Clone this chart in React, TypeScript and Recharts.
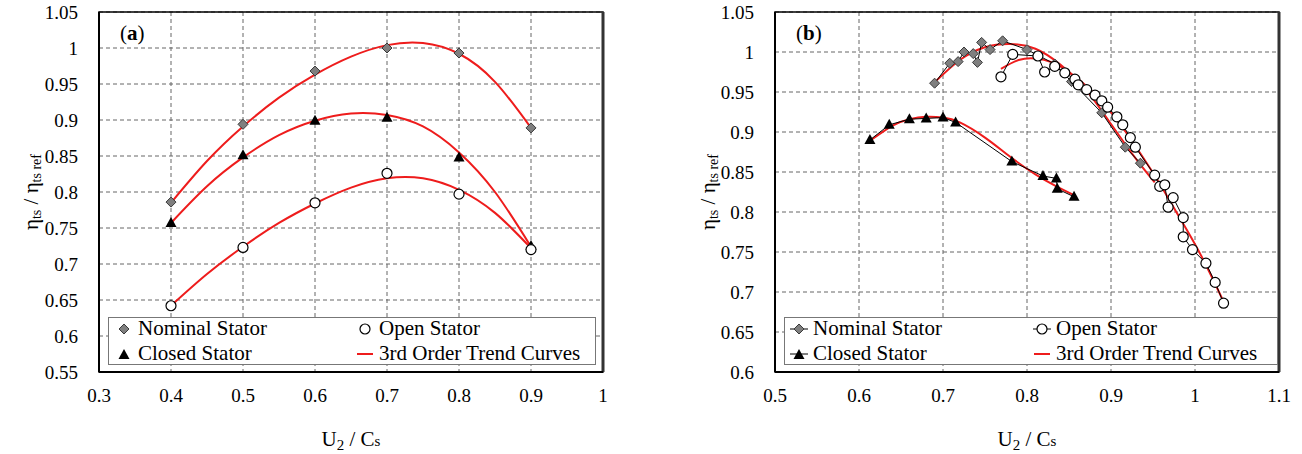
import React from 'react';
import { ComposedChart, Scatter, Line, XAxis, YAxis, CartesianGrid, ReferenceArea, ReferenceLine, Legend } from 'recharts';

const FONT = '"Liberation Serif", "Times New Roman", serif';
const RED = '#ee1c1c';

// (a) measured efficiency ratios at fixed U2/Cs
const ratioA = [0.4, 0.5, 0.6, 0.7, 0.8, 0.9];
const nominalA = [0.786, 0.894, 0.968, 1.0, 0.993, 0.889];
const closedA = [0.757, 0.851, 0.899, 0.903, 0.848, 0.725];
const openA = [0.642, 0.723, 0.785, 0.826, 0.797, 0.72];

// (a) 3rd order trend curves
const trendRatioA = [0.4, 0.45, 0.5, 0.55, 0.6, 0.65, 0.7, 0.75, 0.8, 0.85, 0.9];
const nominalTrendA = [0.785, 0.843, 0.891, 0.931, 0.963, 0.988, 1.004, 1.007, 0.992, 0.953, 0.889];
const closedTrendA = [0.757, 0.808, 0.848, 0.879, 0.899, 0.909, 0.907, 0.891, 0.855, 0.8, 0.724];
const openTrendA = [0.642, 0.686, 0.724, 0.757, 0.784, 0.806, 0.819, 0.819, 0.803, 0.771, 0.722];

// (b) measured points
const nominalRatioB = [0.69, 0.708, 0.718, 0.725, 0.736, 0.741, 0.746, 0.756, 0.771, 0.8, 0.833, 0.853, 0.889, 0.917, 0.935];
const nominalB = [0.961, 0.986, 0.988, 1.0, 0.998, 0.987, 1.012, 1.003, 1.014, 1.003, 0.985, 0.963, 0.924, 0.881, 0.861];
const closedRatioB = [0.613, 0.636, 0.66, 0.68, 0.7, 0.715, 0.782, 0.819, 0.835, 0.836, 0.856];
const closedB = [0.89, 0.909, 0.916, 0.917, 0.918, 0.912, 0.863, 0.845, 0.842, 0.829, 0.819];
const openRatioB = [0.769, 0.783, 0.813, 0.821, 0.833, 0.845, 0.857, 0.861, 0.871, 0.881, 0.889, 0.896, 0.907, 0.914,
  0.923, 0.929, 0.952, 0.958, 0.964, 0.968, 0.974, 0.986, 0.986, 0.997, 1.013, 1.024, 1.034];
const openB = [0.969, 0.997, 0.995, 0.975, 0.982, 0.974, 0.966, 0.959, 0.953, 0.946, 0.939, 0.931, 0.919, 0.909,
  0.893, 0.881, 0.846, 0.832, 0.834, 0.806, 0.818, 0.793, 0.769, 0.753, 0.736, 0.712, 0.686];

// (b) trend curves
const nominalTrendRatioB = [0.69, 0.72, 0.75, 0.78, 0.81, 0.84, 0.87, 0.9, 0.93, 0.952];
const nominalTrendB = [0.962, 0.99, 1.006, 1.01, 1.004, 0.984, 0.953, 0.91, 0.866, 0.837];
const closedTrendRatioB = [0.613, 0.64, 0.66, 0.68, 0.7, 0.72, 0.75, 0.78, 0.81, 0.835, 0.856];
const closedTrendB = [0.889, 0.908, 0.916, 0.919, 0.918, 0.912, 0.893, 0.869, 0.847, 0.832, 0.821];
const openTrendRatioB = [0.769, 0.79, 0.81, 0.83, 0.85, 0.87, 0.89, 0.91, 0.93, 0.95, 0.97, 0.99, 1.01, 1.034];
const openTrendB = [0.979, 0.99, 0.992, 0.987, 0.975, 0.958, 0.937, 0.911, 0.881, 0.849, 0.814, 0.778, 0.74, 0.688];

const ticksXA = [0.3, 0.4, 0.5, 0.6, 0.7, 0.8, 0.9, 1.0];
const ticksYA = [0.55, 0.6, 0.65, 0.7, 0.75, 0.8, 0.85, 0.9, 0.95, 1.0, 1.05];
const ticksXB = [0.5, 0.6, 0.7, 0.8, 0.9, 1.0, 1.1];
const ticksYB = [0.6, 0.65, 0.7, 0.75, 0.8, 0.85, 0.9, 0.95, 1.0, 1.05];

const toPoints = (xs: number[], ys: number[]) => xs.map((x, i) => ({ x, y: ys[i] }));
const fmt = (v: number) => String(Number(v.toFixed(2)));

const Diamond = ({ cx, cy }: any) => (
  <path d={`M${cx},${cy - 5} L${cx + 5},${cy} L${cx},${cy + 5} L${cx - 5},${cy} Z`} fill="#7f7f7f" stroke="#3a3a3a" strokeWidth={1} />
);
const Triangle = ({ cx, cy }: any) => (
  <path d={`M${cx},${cy - 6} L${cx + 5.5},${cy + 4} L${cx - 5.5},${cy + 4} Z`} fill="#000" />
);
const Ring = ({ cx, cy }: any) => <circle cx={cx} cy={cy} r={5} fill="#fff" stroke="#000" strokeWidth={1.2} />;

const Marker = ({ kind, line }: { kind: string; line: boolean }) => (
  <svg width={22} height={14} style={{ position: 'absolute', left: -11, top: -7 }}>
    {line && kind !== 'trend' && <line x1={2} y1={7} x2={20} y2={7} stroke="#000" strokeWidth={1} />}
    {kind === 'nominal' && <Diamond cx={11} cy={7} />}
    {kind === 'closed' && <Triangle cx={11} cy={8} />}
    {kind === 'open' && <Ring cx={11} cy={7} />}
    {kind === 'trend' && <line x1={3} y1={7} x2={19} y2={7} stroke={RED} strokeWidth={2} />}
  </svg>
);

const legendItems = [
  { kind: 'nominal', label: 'Nominal Stator', col: 0, row: 0 },
  { kind: 'open', label: 'Open Stator', col: 1, row: 0 },
  { kind: 'closed', label: 'Closed Stator', col: 0, row: 1 },
  { kind: 'trend', label: '3rd Order Trend Curves', col: 1, row: 1 },
];

const LegendBox = ({ line, colX }: { line: boolean; colX: number[] }) => (
  <div style={{ position: 'relative', width: '100%', height: '100%', boxSizing: 'border-box', border: '1px solid #777', background: '#fff', fontFamily: FONT, fontSize: 21, color: '#000' }}>
    {legendItems.map((it) => (
      <div key={it.label} style={{ position: 'absolute', left: colX[it.col], top: it.row === 0 ? 11 : 36 }}>
        <Marker kind={it.kind} line={line} />
        <span style={{ position: 'absolute', left: 14, top: -13, whiteSpace: 'nowrap', lineHeight: '25px' }}>{it.label}</span>
      </div>
    ))}
  </div>
);

interface PanelProps {
  width: number;
  marginLeft: number;
  marginRight: number;
  xDomain: [number, number];
  yDomain: [number, number];
  xTicks: number[];
  yTicks: number[];
  letter: string;
  nominal: { x: number; y: number }[];
  closed: { x: number; y: number }[];
  open: { x: number; y: number }[];
  trends: { x: number; y: number }[][];
  connect: boolean;
  legendLeft: number;
  legendWidth: number;
  legendCols: number[];
  yLabelX: number;
}

const Panel = (p: PanelProps) => {
  const tick = { fontSize: 19, fill: '#000', fontFamily: FONT };
  const joint = p.connect ? { stroke: '#000', strokeWidth: 1 } : undefined;
  return (
    <ComposedChart width={p.width} height={454} margin={{ top: 12, right: p.marginRight, left: p.marginLeft, bottom: 52 }}>
      <CartesianGrid stroke="#666" strokeDasharray="4 3" />
      <XAxis
        type="number"
        dataKey="x"
        domain={p.xDomain}
        ticks={p.xTicks}
        tickFormatter={fmt}
        tick={tick}
        tickLine={false}
        tickSize={0}
        tickMargin={17}
        height={30}
        axisLine={{ stroke: '#000', strokeWidth: 2 }}
        allowDataOverflow
        label={{
          content: ({ viewBox }: any) => (
            <text x={viewBox.x + viewBox.width / 2} y={viewBox.y + 74} textAnchor="middle" fontFamily={FONT} fontSize={21} fill="#000">
              U<tspan fontSize={15} dy={4}>2</tspan>
              <tspan dy={-4}> / C</tspan>
              <tspan fontSize={15}>s</tspan>
            </text>
          ),
        }}
      />
      <YAxis
        type="number"
        dataKey="y"
        domain={p.yDomain}
        ticks={p.yTicks}
        tickFormatter={fmt}
        tick={tick}
        tickLine={false}
        tickSize={0}
        tickMargin={21}
        width={60}
        axisLine={{ stroke: '#000', strokeWidth: 2 }}
        allowDataOverflow
        label={{
          content: ({ viewBox }: any) => {
            const cy = viewBox.y + viewBox.height / 2;
            return (
              <text x={p.yLabelX} y={cy} transform={`rotate(-90 ${p.yLabelX} ${cy})`} textAnchor="middle" fontFamily={FONT} fontSize={21} fill="#000">
                η<tspan fontSize={14} dy={3}>ts</tspan>
                <tspan dy={-3}> / η</tspan>
                <tspan fontSize={14} dy={3}>ts ref</tspan>
              </text>
            );
          },
        }}
      />
      <ReferenceArea
        x1={p.xDomain[0]}
        x2={p.xDomain[1]}
        y1={p.yDomain[0]}
        y2={p.yDomain[1]}
        fill="none"
        stroke="#000"
        strokeWidth={1.5}
        ifOverflow="visible"
        label={{
          content: ({ viewBox }: any) => (
            <text x={viewBox.x + 21} y={viewBox.y + 28} fontFamily={FONT} fontSize={21} fill="#000">
              (<tspan fontWeight="bold">{p.letter}</tspan>)
            </text>
          ),
        }}
      />
      {/* heavier right edge of the plot frame */}
      <ReferenceLine x={p.xDomain[1]} stroke="#333" strokeWidth={3} ifOverflow="visible" />
      {p.trends.map((t, i) => (
        <Line key={i} data={t} dataKey="y" type="natural" stroke={RED} strokeWidth={2} dot={false} isAnimationActive={false} />
      ))}
      <Scatter data={p.nominal} dataKey="y" shape={Diamond} line={joint} isAnimationActive={false} />
      <Scatter data={p.closed} dataKey="y" shape={Triangle} line={joint} isAnimationActive={false} />
      <Scatter data={p.open} dataKey="y" shape={Ring} line={joint} isAnimationActive={false} />
      <Legend
        layout="horizontal"
        verticalAlign="middle"
        content={() => <LegendBox line={p.connect} colX={p.legendCols} />}
        wrapperStyle={{ left: p.legendLeft, top: 317, width: p.legendWidth, height: 48 }}
      />
    </ComposedChart>
  );
};

export default function App() {
  return (
    <div style={{ position: 'absolute', left: 0, top: 0, width: 1302, height: 454, background: '#fff' }}>
      <div style={{ position: 'absolute', left: 0, top: 0 }}>
        <Panel
          width={650}
          marginLeft={39}
          marginRight={47}
          xDomain={[0.3, 1.0]}
          yDomain={[0.55, 1.05]}
          xTicks={ticksXA}
          yTicks={ticksYA}
          letter="a"
          nominal={toPoints(ratioA, nominalA)}
          closed={toPoints(ratioA, closedA)}
          open={toPoints(ratioA, openA)}
          trends={[
            toPoints(trendRatioA, nominalTrendA),
            toPoints(trendRatioA, closedTrendA),
            toPoints(trendRatioA, openTrendA),
          ]}
          connect={false}
          legendLeft={108}
          legendWidth={488}
          legendCols={[15, 256]}
          yLabelX={38}
        />
      </div>
      <div style={{ position: 'absolute', left: 650, top: 0 }}>
        <Panel
          width={652}
          marginLeft={65}
          marginRight={23}
          xDomain={[0.5, 1.1]}
          yDomain={[0.6, 1.05]}
          xTicks={ticksXB}
          yTicks={ticksYB}
          letter="b"
          nominal={toPoints(nominalRatioB, nominalB)}
          closed={toPoints(closedRatioB, closedB)}
          open={toPoints(openRatioB, openB)}
          trends={[
            toPoints(nominalTrendRatioB, nominalTrendB),
            toPoints(closedTrendRatioB, closedTrendB),
            toPoints(openTrendRatioB, openTrendB),
          ]}
          connect={true}
          legendLeft={134}
          legendWidth={494}
          legendCols={[14, 257]}
          yLabelX={65}
        />
      </div>
    </div>
  );
}
